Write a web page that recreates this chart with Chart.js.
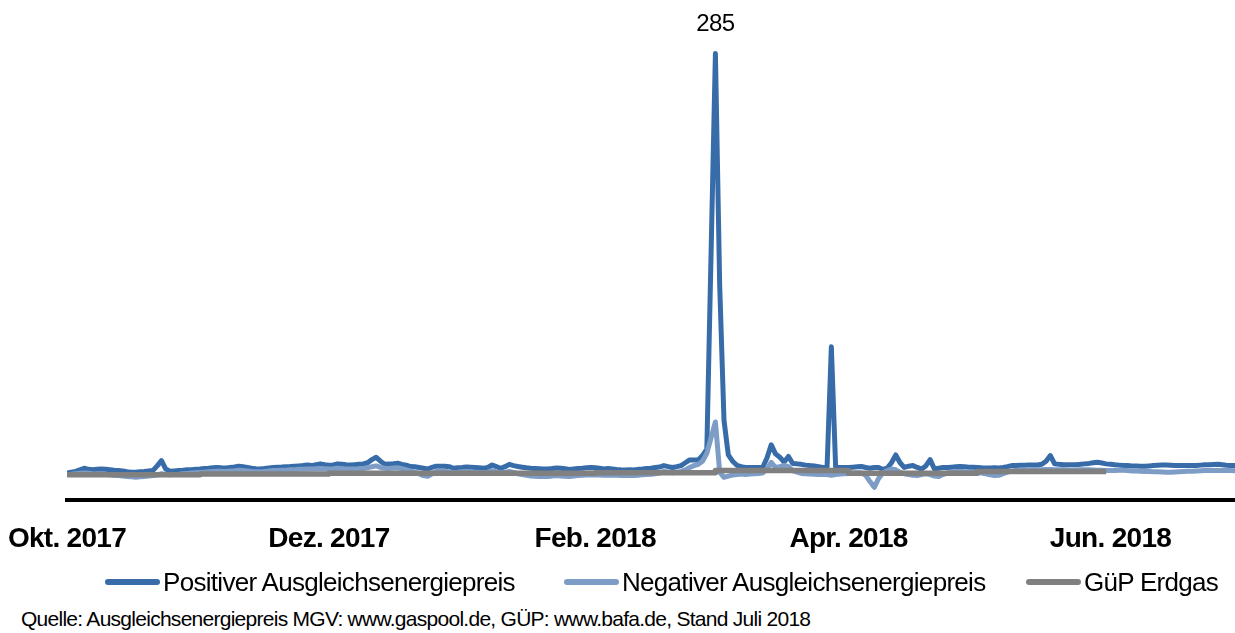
<!DOCTYPE html>
<html>
<head>
<meta charset="utf-8">
<script src="https://cdn.jsdelivr.net/npm/chart.js@4.4.0/dist/chart.umd.min.js"></script>
<style>
  body { margin: 0; background: #fff; width: 1235px; height: 633px; overflow: hidden;
         font-family: "Liberation Sans", Arial, sans-serif; color: #000; }
  #wrap { position: absolute; left: 0; top: 0; width: 1235px; height: 578px; }
  .leg { position: absolute; top: 566px; height: 32px; font-size: 26px; letter-spacing: -0.7px;
         display: flex; align-items: center; white-space: nowrap; }
  .sw { display: inline-block; width: 55px; height: 6px; border-radius: 3px; margin-right: 3px; }
  #src { position: absolute; left: 21px; top: 607px; font-size: 21px; letter-spacing: -0.73px; white-space: nowrap; }
</style>
</head>
<body>
<div id="wrap"><canvas id="chart"></canvas></div>
<div class="leg" style="left:105px"><span class="sw" style="background:#386ca9"></span>Positiver Ausgleichsenergiepreis</div>
<div class="leg" style="left:564px"><span class="sw" style="background:#7d9dc6"></span>Negativer Ausgleichsenergiepreis</div>
<div class="leg" style="left:1026px"><span class="sw" style="background:#808080"></span>GüP Erdgas</div>
<div id="src">Quelle: Ausgleichsenergiepreis MGV: www.gaspool.de, GÜP: www.bafa.de, Stand Juli 2018</div>
<script>
'use strict';
// ─── Data (€/MWh, daily from 1 Oct 2017) ──────────────────────────────────
const tickDays   = [0, 61, 123, 182, 243];
const tickLabels = ['Okt. 2017', 'Dez. 2017', 'Feb. 2018', 'Apr. 2018', 'Jun. 2018'];

const positivePrice = [
  17.5, 18, 18.5, 19.5, 20.5, 19.8, 19.5, 19.8, 20, 19.8,
  19.5, 19.2, 19, 18.7, 18.3, 18, 18, 18.3, 18.5, 18.8,
  19, 22, 25.4, 20, 18.6, 18.8, 19, 19.2, 19.5, 19.5,
  19.8, 20, 20.3, 20.5, 20.8, 21, 20.8, 20.7, 21, 21.3,
  21.8, 21.5, 21, 20.5, 20.2, 20, 20.3, 20.7, 21, 21.2,
  21.3, 21.5, 21.6, 21.8, 22, 22.2, 22.6, 22.2, 22.8, 23.3,
  22.8, 22.4, 22.6, 23.3, 23, 22.7, 22.6, 22.8, 23, 23.2,
  24, 26, 27.5, 25, 23, 23.2, 23.4, 23.7, 23, 22.5,
  21.6, 21.5, 21, 20.5, 20, 21, 21.8, 21.8, 21.8, 21.5,
  20.5, 20.8, 21, 21.3, 21.2, 21, 20.8, 20.5, 21, 22.6,
  21.5, 20.5, 21.5, 23, 22.2, 21.6, 21.2, 20.8, 20.5, 20.4,
  20.2, 20, 20, 20.3, 20.7, 20.5, 20.2, 19.7, 20, 20.3,
  20.5, 20.8, 21, 20.8, 20.5, 20, 20.3, 20, 19.7, 19.5,
  19.4, 19.6, 19.4, 19.8, 20, 20.3, 20.5, 21, 21.3, 22.2,
  21.5, 21, 21.5, 22.2, 24, 25.8, 25.8, 25.8, 28.6, 32.7,
  159, 285, 137, 51, 29, 25, 22.4, 21.5, 21, 21,
  21, 21, 21, 27, 35.4, 29.7, 27.5, 24.5, 28, 23.5,
  23.3, 23, 22.5, 22.2, 22, 21.5, 21, 21, 98, 21,
  21, 21, 21, 21.2, 21.4, 21.6, 21, 20.5, 21, 21,
  19.7, 20.5, 24, 29, 24, 21, 21.8, 22.2, 21, 20,
  22, 26, 20, 20.5, 21, 21, 21.2, 21.4, 21.6, 21.4,
  21.2, 21.2, 21, 20.8, 20.7, 20.7, 20.8, 20.7, 21, 21.5,
  22.2, 22.2, 22.4, 22.4, 22.5, 22.6, 22.6, 23, 25, 28.6,
  23.3, 23, 22.8, 22.8, 22.8, 22.8, 23, 23.3, 23.6, 24,
  24.3, 23.8, 23.3, 23, 22.7, 22.5, 22.3, 22.2, 22, 22,
  21.8, 21.8, 22, 22.2, 22.4, 22.6, 22.6, 22.4, 22.2, 22.2,
  22.2, 22.3, 22.2, 22.3, 22.5, 22.7, 22.8, 22.9, 23, 22.7,
  22.4, 22.2, 22.2,
];

const negativePrice = [
  16.5, 16.7, 17, 17.3, 17.5, 17.3, 17, 16.8, 16.7, 16.5,
  16.3, 16, 15.8, 15.5, 15.3, 15, 14.8, 15, 15.3, 15.5,
  15.8, 16.2, 17, 16.5, 16.3, 16.5, 16.7, 17, 17.2, 17.4,
  17.6, 17.8, 18, 18.2, 18.4, 18.6, 18.6, 18.5, 18.7, 18.9,
  19.2, 19, 18.8, 18.5, 18.3, 18.2, 18.5, 18.8, 19, 19,
  19.2, 19.3, 19.5, 19.6, 19.8, 19.9, 20, 20, 20.2, 20.4,
  20.2, 20, 20.2, 20.5, 20.3, 20.1, 20, 20.1, 20.2, 20.4,
  20.8, 21.5, 22, 21, 20.5, 20.4, 20.6, 20.8, 20.2, 19.5,
  18.8, 18, 17, 15.8, 15.4, 17, 18.5, 18.8, 18.6, 18.2,
  17.8, 18, 18.3, 18.5, 18.2, 18, 17.8, 17.5, 18, 19,
  18.2, 17.6, 18, 18.5, 17.8, 17, 16.5, 16, 15.6, 15.4,
  15.3, 15.2, 15.2, 15.5, 15.8, 15.6, 15.4, 15.2, 15.5, 15.8,
  16, 16.2, 16.4, 16.2, 16.2, 16, 16.2, 16.1, 16, 15.9,
  15.8, 16, 15.9, 16.1, 16.3, 16.5, 16.6, 17, 17.4, 18.5,
  18, 17.6, 18, 18.5, 19.5, 21, 22.2, 23, 25, 30,
  40, 50, 18, 14.7, 15.5, 16.2, 16.5, 16.8, 16.5, 16.8,
  17, 17.2, 17.5, 20, 24.3, 21, 21.5, 22.4, 21.5, 19,
  18, 17.2, 17, 16.8, 16.7, 16.5, 16.7, 16.5, 16, 16.5,
  16.8, 17, 17.2, 17.5, 17.6, 17.4, 16, 12, 8.3, 14,
  17.5, 19, 20, 19.5, 18, 17, 16.5, 16, 15.8, 16.5,
  17, 16.5, 15.5, 15.2, 16.5, 17.5, 18, 18.4, 18.4, 18.2,
  18, 17.8, 17.6, 17.4, 17, 16.3, 15.8, 16, 17, 18,
  18.7, 19, 19.2, 19.3, 19.4, 19.5, 19.5, 19.6, 19.7, 19.7,
  19.6, 19.5, 19.5, 19.4, 19.3, 19.4, 19.5, 19.6, 19.5, 19.4,
  19.3, 19.2, 19, 19, 19.1, 19.2, 19.2, 19, 18.8, 18.7,
  18.6, 18.5, 18.4, 18.3, 18.2, 18.1, 18, 17.9, 18.1, 18.3,
  18.5, 18.6, 18.6, 18.8, 18.9, 19, 19.1, 19.1, 19, 19,
  19, 19, 18.9,
];

// GüP is a monthly price: value holds from each month start
const gupDays  = [0, 31, 61, 92, 123, 151, 182, 212, 242];
const gupPrice = [16.4, 16.9, 17.3, 17.3, 17.6, 19.0, 17.3, 18.4, 18.4];

// ─── Plugins ──────────────────────────────────────────────────────────────
const tightText = {
  id: 'tightText',
  beforeDraw(chart) { chart.ctx.letterSpacing = '-0.7px'; },
};

const peakLabel = {
  id: 'peakLabel',
  afterDatasetsDraw(chart) {
    const pts = chart.data.datasets[0].data;
    let k = 0;
    pts.forEach((p, i) => { if (p.y > pts[k].y) k = i; });
    const el = chart.getDatasetMeta(0).data[k];
    const ctx = chart.ctx;
    ctx.save();
    ctx.letterSpacing = '-0.5px';
    ctx.font = '24px "Liberation Sans", Arial, sans-serif';
    ctx.fillStyle = '#000';
    ctx.textAlign = 'center';
    ctx.textBaseline = 'alphabetic';
    ctx.fillText(String(Math.round(pts[k].y)), el.x, el.y - 23);
    ctx.restore();
  },
};

const lineBase = { pointRadius: 0, tension: 0, borderJoinStyle: 'round', borderCapStyle: 'round', fill: false };

new Chart(document.getElementById('chart'), {
  type: 'line',
  data: {
    datasets: [
      { ...lineBase, label: 'Positiver Ausgleichsenergiepreis', order: 2,
        data: positivePrice.map((v, i) => ({ x: i, y: v })),
        borderColor: '#386ca9', borderWidth: 5 },
      { ...lineBase, label: 'Negativer Ausgleichsenergiepreis', order: 1,
        data: negativePrice.map((v, i) => ({ x: i, y: v })),
        borderColor: '#7d9dc6', borderWidth: 5 },
      { ...lineBase, label: 'GüP Erdgas', order: 0, stepped: true,
        data: gupDays.map((d, i) => ({ x: d, y: gupPrice[i] })),
        borderColor: '#808080', borderWidth: 5.5, borderCapStyle: 'butt' },
    ],
  },
  options: {
    responsive: true, maintainAspectRatio: false, animation: false,
    layout: { padding: { top: 30, left: 67, right: 0, bottom: 0 } },
    plugins: { legend: { display: false }, tooltip: { enabled: false } },
    scales: {
      x: {
        type: 'linear', min: 0, max: 272,
        afterBuildTicks: s => { s.ticks = tickDays.map(v => ({ value: v })); },
        afterFit: s => { s.paddingLeft = 0; s.paddingRight = 0; },
        ticks: {
          callback: v => tickLabels[tickDays.indexOf(v)],
          font: { family: '"Liberation Sans", Arial, sans-serif', size: 28, weight: 'bold' },
          color: '#000', padding: 22, maxRotation: 0, autoSkip: false,
        },
        grid: { color: 'rgba(0,0,0,0)', drawTicks: false },
        border: { color: '#000', width: 4 },
      },
      y: { display: false, min: 0, max: 300 },
    },
  },
  plugins: [tightText, peakLabel],
});
</script>
</body>
</html>
